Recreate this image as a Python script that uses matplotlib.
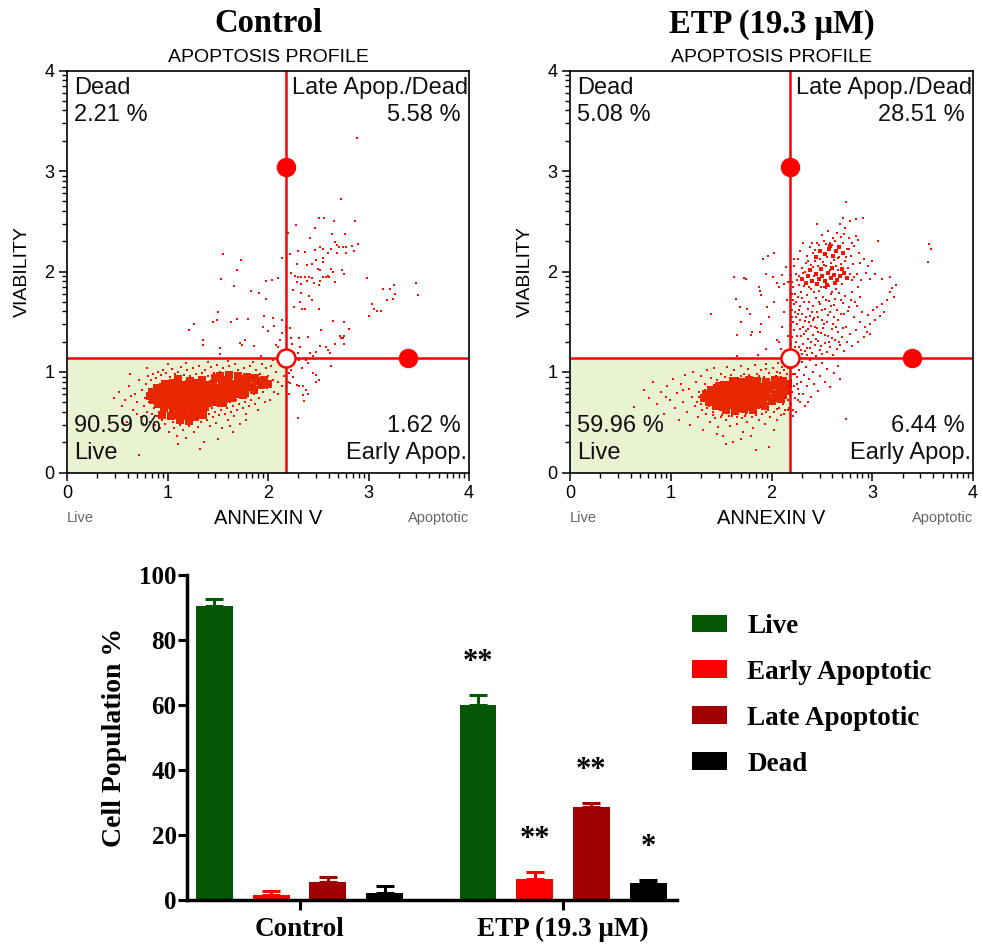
import numpy as np
import matplotlib.pyplot as plt
from matplotlib.patches import Rectangle, Patch

SANS = 'Liberation Sans'
SERIF = 'Liberation Serif'

# ---- bar chart data -------------------------------------------------------
groups = ['Control', 'ETP (19.3 \u03bcM)']
populations = ['Live', 'Early Apoptotic', 'Late Apoptotic', 'Dead']
control_pct = [90.59, 1.62, 5.58, 2.21]
etp_pct = [59.96, 6.44, 28.51, 5.08]
control_err = [2.0, 1.3, 1.6, 2.1]
etp_err = [3.1, 2.1, 1.3, 1.1]
etp_stars = ['**', '**', '**', '*']
bar_colors = ['#045804', '#ff0000', '#a00000', '#000000']

# ---- flow profile gates (log10 units) --------------------------------------
gate_x = 2.18
gate_y = 1.14
handle_top = 3.04
handle_right = 3.39

# ---- control cells (ANNEXIN V, VIABILITY) -----------------------------------
ctrl_core = [
    (1.10, 0.93), (1.22, 0.91), (1.34, 0.92), (1.47, 0.94), (1.60, 0.92), (1.72, 0.93),
    (1.52, 0.96), (1.61, 0.97), (1.70, 0.96), (1.79, 0.95), (1.87, 0.94), (1.96, 0.92),
    (0.98, 0.88), (1.05, 0.89), (1.13, 0.87), (1.21, 0.88), (1.29, 0.89), (1.37, 0.87),
    (1.45, 0.88), (1.54, 0.90), (1.62, 0.88), (1.70, 0.89), (1.79, 0.90), (1.88, 0.91),
    (0.90, 0.84), (0.96, 0.85), (1.03, 0.83), (1.10, 0.84), (1.17, 0.85), (1.24, 0.83),
    (1.31, 0.84), (1.38, 0.85), (1.45, 0.83), (1.52, 0.84), (1.60, 0.85), (1.68, 0.84),
    (1.76, 0.86), (1.84, 0.85), (1.93, 0.87), (2.00, 0.88),
    (0.85, 0.80), (0.91, 0.79), (0.98, 0.81), (1.04, 0.80), (1.11, 0.79), (1.18, 0.81),
    (1.25, 0.80), (1.32, 0.79), (1.39, 0.81), (1.46, 0.80), (1.53, 0.81), (1.61, 0.80),
    (1.69, 0.82), (1.77, 0.81), (1.86, 0.82),
    (0.83, 0.76), (0.89, 0.75), (0.96, 0.77), (1.02, 0.76), (1.09, 0.75), (1.16, 0.77),
    (1.23, 0.76), (1.30, 0.75), (1.37, 0.77), (1.44, 0.76), (1.51, 0.77), (1.59, 0.76),
    (1.67, 0.78), (1.75, 0.77),
    (0.86, 0.72), (0.92, 0.71), (0.99, 0.73), (1.06, 0.72), (1.13, 0.71), (1.20, 0.73),
    (1.27, 0.72), (1.34, 0.71), (1.41, 0.73), (1.48, 0.72), (1.56, 0.73), (1.64, 0.74),
    (0.91, 0.68), (0.98, 0.67), (1.05, 0.69), (1.12, 0.68), (1.19, 0.67), (1.26, 0.69),
    (1.33, 0.68), (1.40, 0.69), (1.48, 0.70), (1.55, 0.69),
    (0.97, 0.64), (1.05, 0.63), (1.13, 0.65), (1.21, 0.64), (1.29, 0.63), (1.37, 0.65),
    (1.06, 0.60), (1.16, 0.59), (1.26, 0.61), (0.95, 0.57), (1.03, 0.56), (1.11, 0.57),
    (1.19, 0.56), (1.27, 0.55), (1.35, 0.57), (1.12, 0.52), (1.21, 0.51),
]
ctrl_halo = [
    (0.52, 0.80), (0.58, 0.72), (0.62, 0.86), (0.66, 0.62), (0.68, 0.78), (0.70, 0.70),
    (0.72, 0.92), (0.74, 0.55), (0.75, 0.82), (0.77, 0.66), (0.78, 0.74), (0.79, 0.88),
    (0.80, 0.60), (0.81, 0.96), (0.82, 0.70), (0.83, 0.50), (0.84, 0.92), (0.85, 0.58),
    (0.86, 0.98), (0.87, 0.64), (0.88, 0.47), (0.89, 0.94), (0.90, 0.56), (0.91, 1.00),
    (0.92, 0.60), (0.93, 0.44), (0.94, 0.97), (0.95, 0.52), (0.96, 1.02), (0.97, 0.57),
    (0.98, 0.48), (0.99, 0.99), (1.00, 0.54), (1.01, 0.40), (1.02, 0.95), (1.03, 0.60),
    (1.04, 1.03), (1.05, 0.50), (1.06, 0.44), (1.07, 0.98), (1.08, 0.56), (1.09, 0.36),
    (1.10, 1.00), (1.11, 0.58), (1.12, 0.47), (1.13, 1.05), (1.14, 0.52), (1.15, 0.42),
    (1.16, 0.97), (1.17, 0.60), (1.18, 0.34), (1.19, 1.02), (1.20, 0.55), (1.21, 0.46),
    (1.22, 0.96), (1.23, 0.58), (1.24, 0.50), (1.25, 1.04), (1.26, 0.40), (1.27, 0.62),
    (1.28, 0.98), (1.29, 0.54), (1.30, 0.45), (1.31, 1.06), (1.32, 0.60), (1.33, 0.50),
    (1.34, 0.99), (1.35, 0.56), (1.36, 0.30), (1.37, 1.02), (1.38, 0.62), (1.39, 0.52),
    (1.40, 0.96), (1.41, 0.58), (1.42, 0.46), (1.43, 1.05), (1.44, 0.64), (1.45, 0.55),
    (1.46, 0.99), (1.47, 0.60), (1.48, 0.49), (1.49, 1.07), (1.50, 0.66), (1.51, 0.57),
    (1.52, 1.00), (1.53, 0.62), (1.54, 0.44), (1.55, 1.04), (1.56, 0.68), (1.57, 0.58),
    (1.58, 0.96), (1.59, 0.64), (1.60, 0.52), (1.61, 1.06), (1.62, 0.70), (1.63, 0.60),
    (1.64, 1.00), (1.65, 0.66), (1.66, 0.56), (1.67, 1.08), (1.68, 0.72), (1.69, 0.62),
    (1.70, 1.02), (1.71, 0.68), (1.72, 0.48), (1.73, 0.94), (1.74, 0.74), (1.75, 0.64),
    (1.76, 1.04), (1.77, 0.70), (1.78, 0.58), (1.79, 0.98), (1.80, 0.76), (1.81, 0.66),
    (1.82, 1.06), (1.83, 0.72), (1.84, 0.86), (1.85, 0.94), (1.86, 0.78), (1.87, 0.68),
    (1.88, 1.02), (1.89, 0.82), (1.90, 0.90), (1.91, 0.74), (1.92, 0.98), (1.93, 0.86),
    (1.94, 1.08), (1.95, 0.80), (1.96, 0.92), (1.97, 0.70), (1.98, 1.04), (1.99, 0.84),
    (2.00, 0.96), (2.02, 0.88), (2.03, 1.06), (2.05, 0.92), (2.06, 0.80), (2.08, 1.00),
    (2.10, 0.90), (2.12, 1.08), (2.14, 0.86), (2.16, 0.96), (2.17, 1.10),
    (0.72, 0.17), (1.32, 0.23), (0.63, 0.98), (0.55, 0.66), (0.60, 0.50), (1.50, 0.33),
    (1.10, 0.28), (1.65, 0.40), (0.47, 0.74), (0.64, 0.76), (0.70, 0.58), (0.76, 0.48),
    (0.80, 1.04), (1.00, 1.08), (1.18, 1.09), (1.40, 1.10), (1.60, 1.11), (1.85, 1.10),
    (2.05, 1.12), (1.62, 0.46), (1.78, 0.52), (1.90, 0.62), (2.02, 0.72), (2.10, 0.78),
]
ctrl_upper = [
    (2.89, 3.33), (2.73, 2.72), (2.87, 2.50), (2.66, 2.50), (2.51, 2.53), (2.56, 2.53),
    (2.28, 2.46), (2.47, 2.43), (2.20, 2.38), (2.42, 2.33), (2.64, 2.37), (2.77, 2.37),
    (2.67, 2.29), (2.69, 2.26), (2.90, 2.27), (2.84, 2.25), (2.71, 2.24), (2.75, 2.24),
    (2.78, 2.24), (2.52, 2.24), (2.55, 2.22), (2.47, 2.21), (2.63, 2.22), (2.86, 2.20),
    (2.30, 2.20), (2.37, 2.19), (2.22, 2.17), (2.60, 2.18), (2.69, 2.18), (2.78, 2.18),
    (1.55, 2.17), (2.55, 2.13), (2.48, 2.11), (2.55, 2.09), (1.73, 2.11), (2.14, 2.13),
    (2.29, 2.07), (2.39, 2.06), (2.44, 2.07), (2.50, 2.02), (2.52, 2.01), (2.63, 2.02),
    (2.65, 2.00), (2.74, 2.01), (2.76, 1.98), (1.69, 2.01), (2.23, 1.99), (2.27, 1.96),
    (2.30, 1.95), (2.33, 1.95), (2.37, 1.95), (2.41, 1.95), (2.44, 1.94), (2.55, 1.95),
    (2.58, 1.95), (2.60, 1.96), (2.61, 1.95), (2.52, 1.91), (2.39, 1.91), (2.10, 1.94),
    (1.53, 1.93), (1.98, 1.91), (2.04, 1.92), (2.99, 1.94), (2.29, 1.90), (2.33, 1.88),
    (2.46, 1.89), (2.51, 1.87), (2.67, 1.90), (3.14, 1.83), (3.21, 1.83), (3.25, 1.87),
    (3.26, 1.78), (3.24, 1.73), (3.18, 1.72), (3.47, 1.89), (3.49, 1.77), (1.66, 1.86),
    (1.83, 1.81), (1.91, 1.79), (1.98, 1.73), (2.25, 1.82), (2.33, 1.79), (2.41, 1.76),
    (2.32, 1.70), (2.26, 1.65), (2.34, 1.63), (2.37, 1.63), (2.51, 1.63), (2.44, 1.72),
    (3.03, 1.68), (3.05, 1.63), (3.08, 1.61), (3.12, 1.61), (3.00, 1.56), (1.50, 1.60),
    (1.49, 1.52), (1.45, 1.50), (1.63, 1.50), (1.69, 1.53), (1.80, 1.53), (1.96, 1.56),
    (2.05, 1.54), (2.14, 1.52), (2.06, 1.46), (1.95, 1.45), (2.00, 1.41), (2.18, 1.45),
    (2.22, 1.44), (2.14, 1.39), (2.65, 1.51), (2.76, 1.50), (2.53, 1.42), (2.81, 1.43),
    (2.72, 1.36), (2.76, 1.36), (2.75, 1.34), (2.73, 1.34), (2.67, 1.28), (2.76, 1.28),
    (2.58, 1.25), (2.52, 1.26), (2.60, 1.22), (2.62, 1.19), (1.21, 1.42), (1.26, 1.48),
    (1.35, 1.32), (1.35, 1.27), (1.52, 1.24), (1.52, 1.18), (1.72, 1.29), (1.77, 1.32),
    (1.74, 1.27), (1.86, 1.26), (1.93, 1.16), (2.10, 1.25), (2.08, 1.27), (2.12, 1.32),
    (2.18, 1.42), (2.23, 1.34), (2.24, 1.28), (2.31, 1.34), (2.40, 1.35), (2.32, 1.25),
    (2.30, 1.19), (2.42, 1.19), (2.45, 1.16), (2.48, 1.20),
    (2.22, 1.14), (2.20, 1.08), (2.31, 1.12), (2.38, 1.12), (2.40, 1.09), (2.34, 1.04),
    (2.45, 0.99), (2.48, 0.97), (2.51, 0.92), (2.21, 0.99), (2.20, 0.90), (2.22, 0.89),
    (2.29, 0.87), (2.31, 0.86), (2.35, 0.86), (2.38, 0.82), (2.40, 0.78), (2.35, 0.77),
    (2.36, 0.71), (2.30, 0.54), (2.21, 0.78), (2.63, 1.06), (2.48, 0.90), (2.23, 1.02),
    (2.25, 0.95),
]

# ---- ETP treated cells ------------------------------------------------------
etp_core = [
    (1.62, 0.91), (1.70, 0.90), (1.78, 0.92), (1.86, 0.91), (1.95, 0.90), (2.03, 0.92),
    (2.11, 0.91),
    (1.48, 0.86), (1.55, 0.87), (1.63, 0.85), (1.71, 0.86), (1.79, 0.87), (1.87, 0.85),
    (1.95, 0.86), (2.02, 0.87), (2.10, 0.86), (2.16, 0.88),
    (1.40, 0.82), (1.47, 0.81), (1.54, 0.83), (1.61, 0.82), (1.69, 0.81), (1.76, 0.83),
    (1.84, 0.82), (1.92, 0.81), (1.99, 0.83), (2.07, 0.82), (2.14, 0.81),
    (1.35, 0.78), (1.42, 0.77), (1.50, 0.79), (1.57, 0.78), (1.64, 0.77), (1.72, 0.79),
    (1.80, 0.78), (1.87, 0.77), (1.95, 0.79), (2.03, 0.78), (2.11, 0.77),
    (1.33, 0.74), (1.40, 0.73), (1.47, 0.75), (1.55, 0.74), (1.62, 0.73), (1.70, 0.75),
    (1.77, 0.74), (1.85, 0.73), (1.93, 0.75), (2.01, 0.74), (2.09, 0.73),
    (1.38, 0.70), (1.45, 0.69), (1.53, 0.71), (1.60, 0.70), (1.68, 0.69), (1.76, 0.71),
    (1.84, 0.70), (1.92, 0.69), (2.00, 0.71),
    (1.45, 0.66), (1.52, 0.65), (1.60, 0.67), (1.68, 0.66), (1.76, 0.65), (1.85, 0.67),
    (1.94, 0.66),
    (1.55, 0.62), (1.64, 0.61), (1.73, 0.63), (1.82, 0.62),
]
etp_halo = [
    (0.64, 0.65), (0.73, 0.82), (0.78, 0.74), (0.82, 0.90), (0.86, 0.68), (0.90, 0.80),
    (0.93, 0.58), (0.96, 0.86), (0.99, 0.72), (1.02, 0.93), (1.04, 0.64), (1.06, 0.79),
    (1.08, 0.52), (1.10, 0.88), (1.12, 0.70), (1.14, 0.97), (1.16, 0.60), (1.18, 0.83),
    (1.19, 0.47), (1.21, 0.75), (1.22, 1.00), (1.24, 0.66), (1.25, 0.90), (1.27, 0.55),
    (1.28, 0.80), (1.30, 0.96), (1.31, 0.62), (1.32, 0.42), (1.34, 0.88), (1.35, 0.58),
    (1.36, 1.02), (1.38, 0.66), (1.39, 0.50), (1.40, 0.94), (1.42, 0.60), (1.43, 1.04),
    (1.44, 0.54), (1.46, 0.92), (1.47, 0.45), (1.48, 0.63), (1.50, 0.98), (1.51, 0.57),
    (1.52, 0.36), (1.54, 0.95), (1.55, 0.52), (1.56, 1.05), (1.57, 0.60), (1.59, 0.46),
    (1.60, 0.97), (1.61, 0.56), (1.62, 0.30), (1.63, 1.02), (1.65, 0.58), (1.66, 0.48),
    (1.67, 0.94), (1.68, 0.61), (1.70, 1.06), (1.71, 0.54), (1.72, 0.40), (1.73, 0.98),
    (1.75, 0.58), (1.76, 0.50), (1.77, 1.03), (1.79, 0.63), (1.80, 0.95), (1.81, 0.55),
    (1.82, 0.44), (1.84, 1.07), (1.85, 0.60), (1.86, 0.98), (1.88, 0.52), (1.89, 0.65),
    (1.90, 1.02), (1.91, 0.58), (1.93, 0.95), (1.94, 0.48), (1.95, 1.08), (1.97, 0.62),
    (1.98, 0.99), (1.99, 0.55), (2.00, 0.68), (2.01, 1.04), (2.02, 0.60), (2.04, 0.96),
    (2.05, 0.52), (2.06, 1.09), (2.07, 0.64), (2.08, 0.99), (2.09, 0.57), (2.10, 1.05),
    (2.11, 0.68), (2.12, 0.94), (2.13, 0.62), (2.14, 1.10), (2.15, 0.98), (2.16, 0.72),
    (2.16, 1.04), (2.17, 0.90), (2.17, 0.64), (1.85, 0.22), (1.98, 0.25), (1.55, 0.28),
    (1.80, 0.36), (2.02, 0.42), (1.46, 0.38), (1.26, 0.70), (1.12, 0.82), (0.95, 0.75),
    (1.70, 0.33), (2.17, 0.80), (2.15, 0.86), (2.18, 0.96), (2.16, 0.62), (2.14, 0.74),
    (2.18, 0.70), (2.12, 1.02), (2.17, 1.07), (2.09, 0.95), (2.05, 1.00), (1.95, 1.03),
    (1.88, 0.96), (1.78, 0.97), (1.70, 0.96), (1.60, 0.92), (1.50, 0.90), (1.43, 0.87),
    (1.34, 0.82), (1.28, 0.75), (1.30, 0.68), (1.36, 0.64), (1.42, 0.57), (1.50, 0.55),
    (1.58, 0.56), (1.66, 0.55), (1.74, 0.56), (1.85, 0.57), (1.95, 0.60), (2.05, 0.63),
    (2.12, 0.58),
]
etp_upper_core = [
    (2.30, 1.93), (2.36, 1.96), (2.40, 1.91), (2.44, 1.98), (2.47, 1.93), (2.50, 1.96),
    (2.53, 1.91), (2.56, 1.99), (2.59, 1.94), (2.62, 1.97), (2.65, 1.92), (2.68, 1.96),
    (2.72, 1.99), (2.75, 1.94), (2.34, 1.89), (2.45, 1.88), (2.55, 1.87), (2.63, 1.89),
    (2.38, 2.01), (2.49, 2.02), (2.60, 2.03), (2.70, 2.02),
    (2.48, 2.20), (2.53, 2.17), (2.57, 2.22), (2.61, 2.15), (2.64, 2.20), (2.67, 2.24),
    (2.71, 2.18), (2.58, 2.25), (2.44, 2.14),
]
etp_upper = [
    # late apoptotic / dead quadrant
    (2.19, 1.17), (2.21, 1.22), (2.23, 1.16), (2.24, 1.30), (2.26, 1.19), (2.27, 1.25),
    (2.29, 1.36), (2.30, 1.18), (2.31, 1.28), (2.33, 1.21), (2.34, 1.41), (2.35, 1.17),
    (2.36, 1.33), (2.38, 1.24), (2.39, 1.46), (2.40, 1.19), (2.41, 1.37), (2.43, 1.27),
    (2.44, 1.16), (2.45, 1.44), (2.46, 1.31), (2.48, 1.22), (2.49, 1.39), (2.50, 1.18),
    (2.52, 1.48), (2.53, 1.29), (2.55, 1.20), (2.56, 1.36), (2.58, 1.25), (2.60, 1.43),
    (2.61, 1.17), (2.63, 1.32), (2.65, 1.23), (2.66, 1.40), (2.68, 1.27), (2.70, 1.35),
    (2.72, 1.21), (2.75, 1.30), (2.78, 1.38), (2.80, 1.26), (2.20, 1.35), (2.22, 1.42),
    (2.25, 1.48), (2.28, 1.52), (2.20, 1.55), (2.23, 1.60), (2.19, 1.47), (2.19, 1.28),
    (2.20, 1.62), (2.21, 1.72), (2.22, 1.68), (2.24, 1.55), (2.26, 1.75), (2.27, 1.62),
    (2.29, 1.80), (2.30, 1.58), (2.32, 1.70), (2.33, 1.51), (2.35, 1.77), (2.36, 1.63),
    (2.38, 1.56), (2.39, 1.83), (2.41, 1.66), (2.42, 1.54), (2.44, 1.74), (2.45, 1.60),
    (2.47, 1.81), (2.48, 1.68), (2.50, 1.52), (2.51, 1.75), (2.53, 1.63), (2.54, 1.84),
    (2.56, 1.57), (2.57, 1.71), (2.59, 1.66), (2.60, 1.80), (2.62, 1.55), (2.63, 1.73),
    (2.65, 1.62), (2.67, 1.79), (2.69, 1.58), (2.71, 1.69), (2.73, 1.76), (2.76, 1.61),
    (2.79, 1.72), (2.82, 1.55), (2.85, 1.66), (2.88, 1.50), (2.90, 1.60), (2.93, 1.45),
    (2.96, 1.57), (2.98, 1.48), (3.01, 1.62), (3.03, 1.52), (3.05, 1.65), (3.08, 1.56),
    (3.10, 1.68), (3.12, 1.60), (3.15, 1.72), (3.18, 1.80), (3.20, 1.84), (3.24, 1.87),
    (3.22, 1.75), (2.95, 1.40), (2.92, 1.35), (2.86, 1.30), (2.84, 1.42), (2.98, 1.38),
    (2.20, 1.90), (2.22, 2.05), (2.24, 1.98), (2.26, 2.12), (2.27, 1.87), (2.28, 2.20),
    (2.30, 2.03), (2.31, 2.28), (2.32, 1.86), (2.34, 2.08), (2.35, 2.15), (2.37, 1.85),
    (2.38, 2.24), (2.39, 2.06), (2.41, 2.18), (2.42, 1.96), (2.43, 2.10), (2.45, 2.28),
    (2.45, 2.47), (2.46, 2.05), (2.48, 2.12), (2.49, 1.85), (2.51, 2.09), (2.52, 2.30),
    (2.54, 2.05), (2.55, 2.14), (2.57, 1.86), (2.58, 2.28), (2.59, 2.08), (2.61, 2.33),
    (2.62, 2.11), (2.64, 2.05), (2.65, 2.38), (2.67, 2.14), (2.68, 2.47), (2.69, 2.07),
    (2.71, 2.53), (2.71, 2.28), (2.73, 2.43), (2.73, 2.10), (2.74, 2.69), (2.75, 2.22),
    (2.76, 2.03), (2.77, 2.33), (2.78, 2.50), (2.79, 2.15), (2.80, 1.92), (2.81, 2.07),
    (2.82, 2.25), (2.84, 2.35), (2.84, 2.52), (2.85, 1.98), (2.86, 2.31), (2.87, 2.18),
    (2.88, 2.08), (2.89, 1.92), (2.91, 2.53), (2.92, 2.12), (2.94, 1.99), (2.96, 2.05),
    (2.98, 1.93), (3.00, 2.10), (3.06, 2.30), (3.03, 1.98), (3.10, 1.93), (3.18, 1.95),
    (3.56, 2.27), (3.58, 2.22), (3.55, 2.09),
    (2.21, 1.85), (2.23, 1.78), (2.25, 1.92), (2.19, 1.97), (2.22, 2.12), (2.24, 1.70),
    (2.26, 1.58), (2.28, 1.66), (2.30, 1.74), (2.31, 1.45), (2.32, 1.38), (2.34, 1.55),
    (2.35, 1.24), (2.37, 1.50), (2.37, 1.70), (2.40, 1.60), (2.42, 1.80), (2.43, 1.45),
    (2.44, 1.33), (2.46, 1.55), (2.47, 1.70), (2.49, 1.26), (2.50, 1.62), (2.51, 1.44),
    (2.52, 1.85), (2.54, 1.72), (2.55, 1.50), (2.57, 1.30), (2.58, 1.60), (2.59, 1.78),
    (2.61, 1.48), (2.62, 1.67), (2.64, 1.83), (2.66, 1.52), (2.67, 1.30), (2.69, 1.72),
    (2.70, 1.88), (2.72, 1.58), (2.74, 1.45), (2.77, 1.65), (2.80, 1.80), (2.83, 1.70),
    (2.86, 1.85), (2.88, 1.75), (2.36, 2.10), (2.40, 2.28), (2.43, 2.21), (2.47, 2.26),
    (2.50, 2.36), (2.54, 2.27), (2.56, 2.40), (2.60, 2.26), (2.63, 2.30), (2.66, 2.13),
    (2.69, 2.34), (2.72, 2.37), (2.74, 2.14), (2.77, 2.22), (2.80, 2.28), (2.33, 2.00),
    (2.41, 2.04), (2.52, 2.06), (2.58, 2.01), (2.66, 2.01), (2.78, 1.98), (2.82, 1.95),
    (2.27, 1.96), (2.31, 1.99), (2.20, 1.78), (2.23, 1.25), (2.25, 1.36), (2.21, 1.50),
    (2.28, 1.43), (2.29, 1.22), (2.36, 1.43), (2.39, 1.30), (2.41, 1.52), (2.46, 1.40),
    (2.53, 1.37), (2.60, 1.34), (2.64, 1.45), (2.71, 1.44),
    # dead quadrant
    (1.40, 1.58), (1.63, 1.95), (1.73, 1.94), (1.75, 1.93), (1.65, 1.73), (1.69, 1.65),
    (1.70, 1.50), (1.66, 1.37), (1.80, 1.37), (1.81, 1.40), (1.88, 1.85), (1.89, 1.81),
    (1.90, 1.77), (1.92, 2.12), (1.97, 2.15), (2.02, 2.18), (1.95, 1.98), (2.01, 1.95),
    (2.05, 1.89), (2.07, 1.85), (1.90, 1.48), (1.89, 1.40), (1.96, 1.65), (1.98, 1.55),
    (1.95, 1.23), (2.09, 1.23), (1.66, 1.16), (1.87, 1.17), (2.05, 1.32), (2.07, 1.30),
    (1.79, 1.58), (1.76, 1.63), (2.10, 1.97), (2.14, 2.04), (2.16, 1.90), (2.12, 1.88),
    (2.12, 1.60), (2.15, 1.72), (2.10, 1.45), (2.16, 1.36), (2.13, 1.18), (2.02, 1.70),
    # early apoptotic quadrant
    (2.19, 1.10), (2.20, 1.04), (2.21, 0.98), (2.19, 0.92), (2.22, 0.86), (2.20, 0.80),
    (2.23, 0.74), (2.19, 0.68), (2.21, 0.62), (2.24, 1.08), (2.25, 0.95), (2.26, 0.83),
    (2.27, 1.02), (2.28, 0.70), (2.29, 0.90), (2.30, 1.10), (2.31, 0.78), (2.32, 0.97),
    (2.33, 0.66), (2.34, 1.05), (2.35, 0.86), (2.37, 0.93), (2.38, 1.12), (2.39, 0.75),
    (2.41, 1.00), (2.42, 0.88), (2.44, 1.07), (2.46, 0.81), (2.48, 0.96), (2.50, 1.09),
    (2.53, 0.90), (2.55, 1.03), (2.58, 0.85), (2.62, 0.99), (2.66, 1.06), (2.68, 0.93),
    (2.74, 0.53), (2.22, 1.12), (2.24, 0.60), (2.21, 0.56), (2.26, 0.72), (2.36, 0.70),
    (2.20, 1.12), (2.23, 0.98), (2.25, 0.88), (2.27, 0.78),
]


def draw_profile(ax, layers, title, pct):
    live, early, late, dead = pct
    ax.add_patch(Rectangle((0, 0), gate_x, gate_y, facecolor='#e9f3d2',
                           edgecolor='none', zorder=0))
    # each layer: (points, marker size, colour)
    for pts, size, color in layers:
        arr = np.array(pts)
        ax.plot(arr[:, 0], arr[:, 1], 's', ms=size, mew=0, color=color, zorder=2)

    ax.axvline(gate_x, color='#ff0000', lw=1.8, zorder=3)
    ax.axhline(gate_y, color='#ff0000', lw=1.8, zorder=3)
    ax.plot([gate_x, handle_right], [handle_top, gate_y], 'o', ms=13,
            color='#ff0000', zorder=4)
    ax.plot([gate_x], [gate_y], 'o', ms=13, mfc='white', mec='#ff0000',
            mew=1.8, zorder=5)

    ax.set_xlim(0, 4)
    ax.set_ylim(0, 4)
    ax.set_xticks(range(5))
    ax.set_yticks(range(5))
    minor = [d + np.log10(k) for d in range(4) for k in range(2, 10)]
    ax.set_xticks(minor, minor=True)
    ax.set_yticks(minor, minor=True)
    ax.tick_params(which='major', length=6, width=1.1, labelsize=13, pad=3)
    ax.tick_params(which='minor', length=3.5, width=1.0)
    for lab in ax.get_xticklabels() + ax.get_yticklabels():
        lab.set_family(SANS)
    for sp in ax.spines.values():
        sp.set_linewidth(1.2)
        sp.set_zorder(6)

    tk = dict(fontsize=17, family=SANS, color='#111111')
    ax.text(0.07, 3.94, 'Dead', va='top', ha='left', **tk)
    ax.text(0.07, 3.67, f'{dead:.2f} %', va='top', ha='left', **tk)
    ax.text(3.99, 3.94, 'Late Apop./Dead', va='top', ha='right', **tk)
    ax.text(3.92, 3.67, f'{late:.2f} %', va='top', ha='right', **tk)
    ax.text(0.07, 0.57, f'{live:.2f} %', va='top', ha='left', **tk)
    ax.text(0.07, 0.30, 'Live', va='top', ha='left', **tk)
    ax.text(3.92, 0.57, f'{early:.2f} %', va='top', ha='right', **tk)
    ax.text(3.98, 0.30, 'Early Apop.', va='top', ha='right', **tk)

    ax.set_title('APOPTOSIS PROFILE', family=SANS, fontsize=14, pad=6)
    ax.set_xlabel('ANNEXIN V', family=SANS, fontsize=14.5, labelpad=5)
    ax.set_ylabel('VIABILITY', family=SANS, fontsize=14)
    ax.yaxis.set_label_coords(-0.09, 0.5)
    ax.text(0, -0.112, 'Live', transform=ax.transAxes, ha='left', va='center',
            family=SANS, fontsize=10.5, color='#666666')
    ax.text(1, -0.112, 'Apoptotic', transform=ax.transAxes, ha='right',
            va='center', family=SANS, fontsize=10.5, color='#666666')
    ax.text(0.5, 1.095, title, transform=ax.transAxes, ha='center',
            va='baseline', family=SERIF, fontweight='bold', fontsize=23.5)


fig = plt.figure(figsize=(9.83, 9.44), dpi=100)

ax1 = fig.add_axes([67 / 983, 471.5 / 944, 402 / 983, 402 / 944])
draw_profile(ax1, [(ctrl_core, 5.3, '#e82800'),
                   (ctrl_halo + ctrl_upper, 2.0, '#f31000')],
             groups[0], control_pct)
ax2 = fig.add_axes([570 / 983, 471.5 / 944, 403 / 983, 402 / 944])
draw_profile(ax2, [(etp_core, 5.5, '#e82800'),
                   (etp_upper_core, 3.0, '#f81000'),
                   (etp_halo + etp_upper, 2.0, '#f31000')],
             groups[1], etp_pct)

# ---- bar chart ------------------------------------------------------------
ax3 = fig.add_axes([187 / 983, 44 / 944, 490 / 983, 325 / 944])
group_offset = [0, 4.65]
width = 0.65
for g, (vals, errs) in enumerate([(control_pct, control_err), (etp_pct, etp_err)]):
    for i, (v, e) in enumerate(zip(vals, errs)):
        x = group_offset[g] + i
        ax3.bar(x, v, width=width, color=bar_colors[i], zorder=2)
        ax3.errorbar(x, v, yerr=[[0], [e]], fmt='none', ecolor=bar_colors[i],
                     elinewidth=2.2, capsize=6.5, capthick=2.2, zorder=3)
for i, (v, e, s) in enumerate(zip(etp_pct, etp_err, etp_stars)):
    ax3.text(group_offset[1] + i, v + e + 10.0, s, ha='center', va='center',
             family=SERIF, fontweight='bold', fontsize=22)

ax3.set_xlim(-0.485, 8.16)
ax3.set_ylim(0, 100)
ax3.set_yticks(range(0, 101, 20))
ax3.set_xticks([g + 1.5 for g in group_offset])
ax3.set_xticklabels(groups)
for sp in ['top', 'right']:
    ax3.spines[sp].set_visible(False)
for sp in ['left', 'bottom']:
    ax3.spines[sp].set_linewidth(2.5)
ax3.tick_params(axis='y', length=6.5, width=2.2, pad=1, labelsize=18)
ax3.tick_params(axis='x', length=7, width=2.2, pad=5, labelsize=19.5)
for lab in ax3.get_xticklabels() + ax3.get_yticklabels():
    lab.set_family(SERIF)
    lab.set_fontweight('bold')
ax3.set_ylabel('Cell Population %', family=SERIF, fontweight='bold',
               fontsize=20)
ax3.yaxis.set_label_coords(-0.122, 0.5)

handles = [Patch(facecolor=c, edgecolor='none') for c in bar_colors]
fig.legend(handles, populations, loc='upper left',
           bbox_to_anchor=(692 / 983, 1 - 614 / 944), frameon=False,
           prop={'family': SERIF, 'weight': 'bold', 'size': 19.5},
           handlelength=1.3, handleheight=0.63, handletextpad=0.74,
           labelspacing=0.77, borderpad=0, borderaxespad=0)

fig.savefig('out.png', dpi=100)
